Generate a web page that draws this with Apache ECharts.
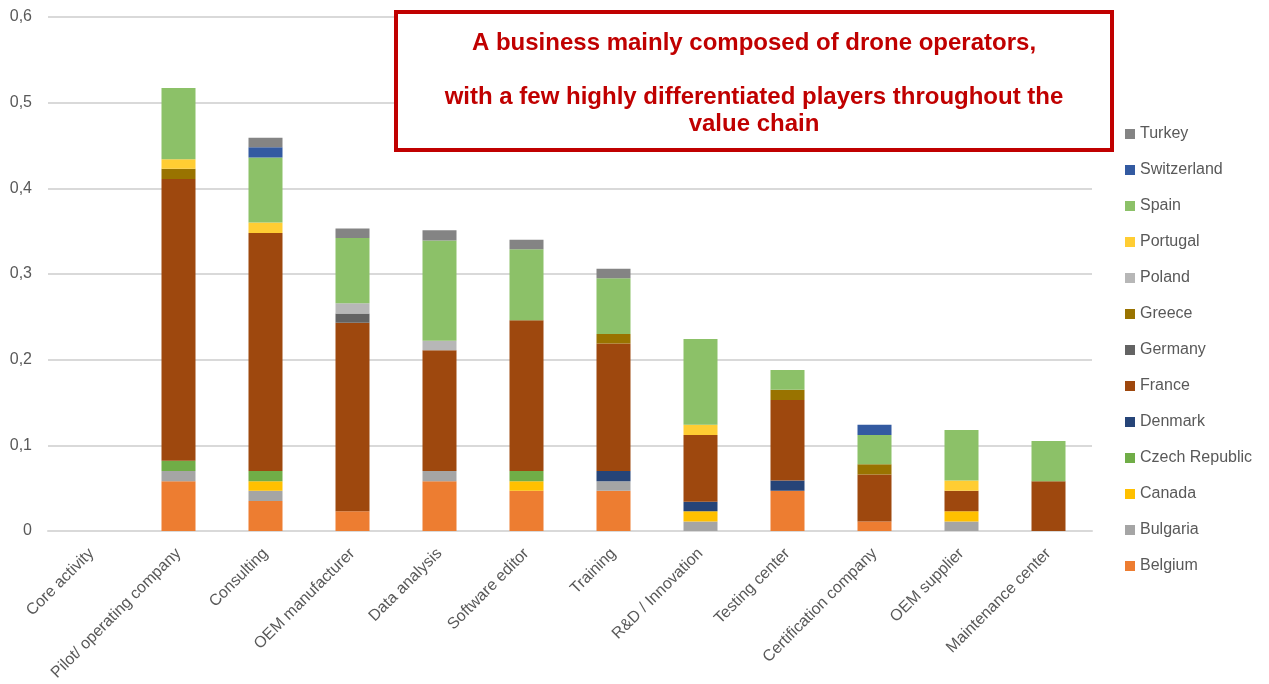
<!DOCTYPE html>
<html>
<head>
<meta charset="utf-8">
<script src="https://cdn.jsdelivr.net/npm/echarts@6/dist/echarts.min.js"></script>
<style>html,body{margin:0;padding:0;background:#fff}#c{width:1269px;height:684px}</style>
</head>
<body>
<div id="c"></div>
<script>
const categories = ['Core activity', 'Pilot/ operating company', 'Consulting', 'OEM manufacturer', 'Data analysis', 'Software editor', 'Training', 'R&D / Innovation', 'Testing center', 'Certification company', 'OEM supplier', 'Maintenance center'];
const yTicks = [0, 0.1, 0.2, 0.3, 0.4, 0.5, 0.6];

const belgium     = [0, 0.058, 0.035, 0.023, 0.058, 0.047, 0.047, 0,     0.047, 0.011, 0,     0];
const bulgaria    = [0, 0.012, 0.012, 0,     0.012, 0,     0.011, 0.011, 0,     0,     0.011, 0];
const canada      = [0, 0,     0.011, 0,     0,     0.011, 0,     0.012, 0,     0,     0.012, 0];
const czech       = [0, 0.012, 0.012, 0,     0,     0.012, 0,     0,     0,     0,     0,     0];
const denmark     = [0, 0,     0,     0,     0,     0,     0.012, 0.011, 0.012, 0,     0,     0];
const france      = [0, 0.329, 0.278, 0.220, 0.141, 0.176, 0.149, 0.078, 0.094, 0.055, 0.024, 0.058];
const germany     = [0, 0,     0,     0.011, 0,     0,     0,     0,     0,     0,     0,     0];
const greece      = [0, 0.012, 0,     0,     0,     0,     0.011, 0,     0.012, 0.012, 0,     0];
const poland      = [0, 0,     0,     0.012, 0.011, 0,     0,     0,     0,     0,     0,     0];
const portugal    = [0, 0.011, 0.012, 0,     0,     0,     0,     0.012, 0,     0,     0.012, 0];
const spain       = [0, 0.083, 0.076, 0.076, 0.117, 0.083, 0.065, 0.100, 0.023, 0.034, 0.059, 0.047];
const switzerland = [0, 0,     0.012, 0,     0,     0,     0,     0,     0,     0.012, 0,     0];
const turkey      = [0, 0,     0.011, 0.011, 0.012, 0.011, 0.011, 0,     0,     0,     0,     0];

const countries = [
  ['Belgium', belgium, '#ED7D31'],
  ['Bulgaria', bulgaria, '#A5A5A5'],
  ['Canada', canada, '#FFC000'],
  ['Czech Republic', czech, '#70AD47'],
  ['Denmark', denmark, '#264478'],
  ['France', france, '#9E480E'],
  ['Germany', germany, '#636363'],
  ['Greece', greece, '#997300'],
  ['Poland', poland, '#B7B7B7'],
  ['Portugal', portugal, '#FFCD33'],
  ['Spain', spain, '#8CC168'],
  ['Switzerland', switzerland, '#335AA1'],
  ['Turkey', turkey, '#848484']
];

const titleLines = ['A business mainly composed of drone operators,', '', 'with a few highly differentiated players throughout the', 'value chain'];

const FONT = '"Liberation Sans", Arial, sans-serif';
const chart = echarts.init(document.getElementById('c'));
chart.setOption({
  animation: false,
  backgroundColor: '#fff',
  grid: { left: 48, right: 177, top: 17, bottom: 153, containLabel: false },
  legend: {
    orient: 'vertical',
    left: 1120, top: 121,
    itemWidth: 10, itemHeight: 10, itemGap: 20,
    icon: 'rect',
    data: countries.map(c => c[0]).reverse(),
    textStyle: { fontFamily: FONT, fontSize: 16, color: '#595959', lineHeight: 16 }
  },
  xAxis: {
    type: 'category',
    data: categories,
    axisLine: { lineStyle: { color: '#D9D9D9', width: 2 } },
    axisTick: { show: false },
    axisLabel: { interval: 0, rotate: 45, margin: 20, fontFamily: FONT, fontSize: 16, color: '#595959' }
  },
  yAxis: {
    type: 'value',
    min: yTicks[0], max: yTicks[yTicks.length - 1], interval: 0.1,
    axisLine: { show: false },
    axisTick: { show: false },
    splitLine: { lineStyle: { color: '#D9D9D9', width: 2 } },
    axisLabel: {
      margin: 16, fontFamily: FONT, fontSize: 16, color: '#595959',
      formatter: v => (Math.round(v * 10) / 10).toString().replace('.', ',')
    }
  },
  series: countries.map(c => ({
    name: c[0], type: 'bar', stack: 'total', data: c[1], barWidth: 34,
    itemStyle: { color: c[2] }
  })),
  graphic: [
    {
      type: 'rect', z: 100,
      shape: { x: 396, y: 12, width: 716, height: 138 },
      style: { fill: '#fff', stroke: '#C00000', lineWidth: 4 }
    },
    {
      type: 'text', z: 101,
      x: 754, y: 30,
      style: {
        text: titleLines.join('\n'),
        align: 'center', verticalAlign: 'top',
        fontFamily: FONT, fontWeight: 'bold', fontSize: 24, lineHeight: 27,
        fill: '#C00000'
      }
    }
  ]
});
</script>
</body>
</html>
